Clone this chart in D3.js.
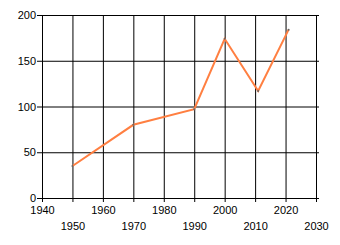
<!DOCTYPE html>
<html>
<head>
<meta charset="utf-8">
<script src="https://cdn.jsdelivr.net/npm/d3@7"></script>
<style>
  body { margin: 0; background: #fff; }
  svg text { font-family: "Liberation Sans", Arial, sans-serif; font-size: 11px; fill: #000; }
</style>
</head>
<body>
<svg id="chart" width="340" height="245"></svg>
<script>
const years = [1950, 1970, 1990, 2000, 2011, 2021];
const values = [35, 80, 97, 174, 117, 184];
const xTicks = [1940, 1950, 1960, 1970, 1980, 1990, 2000, 2010, 2020, 2030];
const yTicks = [0, 50, 100, 150, 200];

const svg = d3.select('#chart');

const x = d3.scaleLinear().domain([1940, 2030]).range([42, 316]);
const y = d3.scaleLinear().domain([0, 200]).range([198, 15]);

// vertical grid lines (with small tick below the axis)
svg.append('g')
  .attr('transform', 'translate(0,15)')
  .call(d3.axisTop(x).tickValues(xTicks).tickSize(-187).tickFormat(''))
  .call(g => g.select('.domain').remove())
  .call(g => g.selectAll('line').attr('stroke', '#000'));

// horizontal grid lines
svg.append('g')
  .attr('transform', 'translate(319,0)')
  .call(d3.axisRight(y).tickValues(yTicks).tickSize(-282).tickFormat(''))
  .call(g => g.select('.domain').remove())
  .call(g => g.selectAll('line').attr('stroke', '#000'));

// x labels, staggered in two rows
svg.append('g')
  .attr('transform', 'translate(0,198)')
  .call(d3.axisBottom(x).tickValues(xTicks).tickSize(0).tickPadding(8).tickFormat(d3.format('d')))
  .call(g => g.select('.domain').remove())
  .call(g => g.selectAll('text')
    .attr('font-family', null).attr('font-size', null)
    .attr('dy', (d, i) => i % 2 ? '2.16em' : '0.71em'));

// y labels
svg.append('g')
  .attr('transform', 'translate(42,0)')
  .call(d3.axisLeft(y).tickValues(yTicks).tickSize(0).tickPadding(6))
  .call(g => g.select('.domain').remove())
  .call(g => g.selectAll('text').attr('font-family', null).attr('font-size', null));

const data = years.map((yr, i) => ({ year: yr, value: values[i] }));

svg.append('path')
  .datum(data)
  .attr('fill', 'none')
  .attr('stroke', '#ff7f41')
  .attr('stroke-width', 2)
  .attr('stroke-linejoin', 'miter')
  .attr('d', d3.line().x(d => x(d.year)).y(d => y(d.value)));

svg.selectAll('.pt')
  .data(data)
  .enter()
  .append('circle')
  .attr('class', 'pt')
  .attr('cx', d => x(d.year))
  .attr('cy', d => y(d.value))
  .attr('r', 1)
  .attr('fill', '#666');
</script>
</body>
</html>
